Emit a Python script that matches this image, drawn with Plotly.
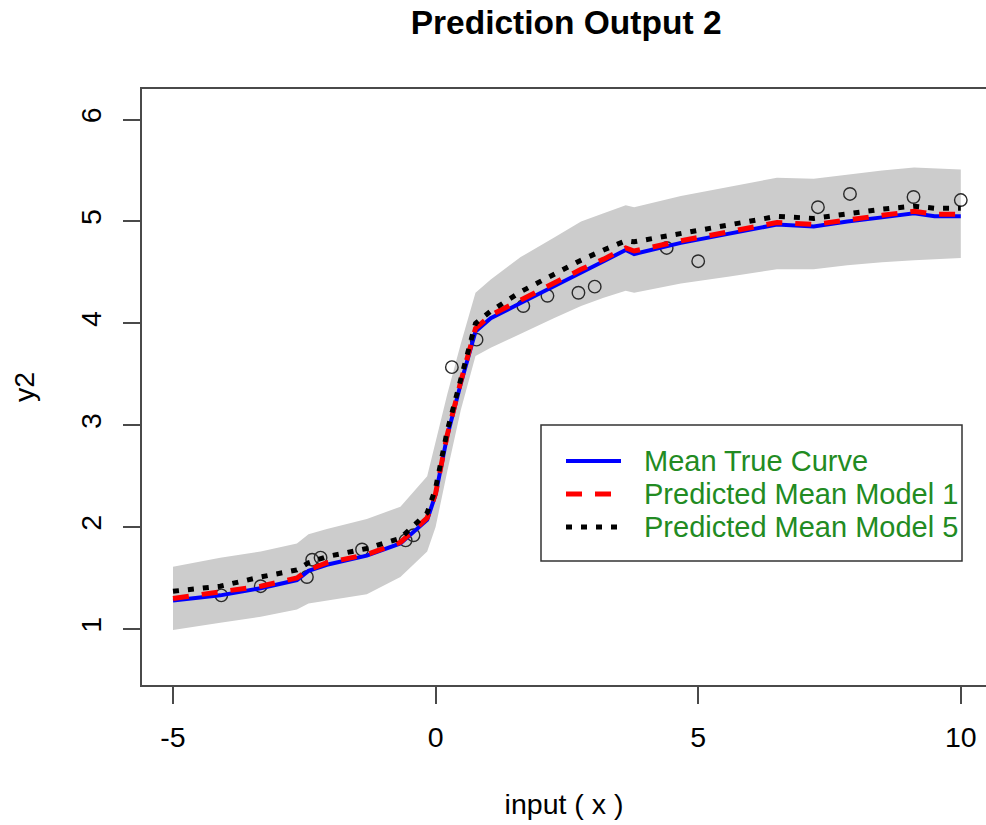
import plotly.graph_objects as go

# Input grid where the curves and the interval band are evaluated
x_grid = [-5, -4.1, -3.33, -2.64, -2.42, -2.07, -1.31, -0.67, -0.16, 0.0, 0.22, 0.48,
          0.76, 1.05, 1.62, 2.25, 2.77, 3.2, 3.62, 3.78, 4.67, 5.6, 6.5, 7.2, 7.84,
          8.5, 9.11, 9.5, 10]

# Mean true curve
y_true = [1.28, 1.33, 1.40, 1.48, 1.57, 1.63, 1.72, 1.84, 2.07, 2.32, 2.89, 3.41,
          3.92, 4.05, 4.20, 4.36, 4.50, 4.61, 4.72, 4.68, 4.79, 4.88, 4.97, 4.95, 5.00,
          5.04, 5.08, 5.05, 5.05]

# Predicted mean, model 1
y_model1 = [1.30, 1.36, 1.42, 1.50, 1.58, 1.65, 1.73, 1.85, 2.09, 2.33, 2.90, 3.43,
            3.95, 4.08, 4.23, 4.39, 4.53, 4.63, 4.74, 4.71, 4.81, 4.90, 4.99, 4.97, 5.02,
            5.06, 5.10, 5.07, 5.07]

# Predicted mean, model 5
y_model5 = [1.37, 1.42, 1.51, 1.58, 1.65, 1.71, 1.79, 1.89, 2.14, 2.38, 2.94, 3.47,
            4.00, 4.12, 4.31, 4.48, 4.62, 4.72, 4.81, 4.80, 4.88, 4.96, 5.05, 5.03, 5.08,
            5.12, 5.15, 5.13, 5.13]

# Prediction interval bounds
band_upper = [1.61, 1.70, 1.76, 1.84, 1.93, 1.98, 2.08, 2.20, 2.50, 2.85, 3.30, 3.80,
              4.30, 4.43, 4.65, 4.84, 5.00, 5.08, 5.16, 5.14, 5.25, 5.34, 5.43, 5.42, 5.46,
              5.50, 5.53, 5.52, 5.51]
band_lower = [0.99, 1.06, 1.12, 1.19, 1.25, 1.28, 1.34, 1.51, 1.76, 2.00, 2.54, 3.15,
              3.68, 3.76, 3.90, 4.05, 4.17, 4.25, 4.32, 4.30, 4.39, 4.46, 4.53, 4.53, 4.57,
              4.60, 4.62, 4.63, 4.64]

# Observed samples
obs_x = [-4.08, -3.33, -2.45, -2.35, -2.19, -1.40, -0.57, -0.42, 0.31, 0.78,
         1.67, 2.13, 2.72, 3.03, 4.40, 5.00, 7.28, 7.89, 9.10, 10.0]
obs_y = [1.33, 1.42, 1.51, 1.68, 1.70, 1.78, 1.87, 1.92, 3.57, 3.84,
         4.17, 4.27, 4.30, 4.36, 4.74, 4.61, 5.14, 5.27, 5.24, 5.21]

x_ticks = [-5, 0, 5, 10]
y_ticks = [1, 2, 3, 4, 5, 6]

# Curve series: label, values, line style
series_names = ["Mean True Curve", "Predicted Mean Model 1", "Predicted Mean Model 5"]
series_values = [y_true, y_model1, y_model5]
series_colors = ["#0000FF", "#FF0000", "#000000"]
series_widths = [4, 5, 5]
series_dashes = ["solid", "16px,13px", "6px,9px"]

FONT = "Liberation Sans"
AXIS_COLOR = "#4a4a4a"
LEGEND_TEXT = "#228B22"
BASE = 28.5

# Plot area in pixels (used to place the legend box in paper coordinates)
L, R, T, B = 142, 986, 89, 685


def px_x(p):
    return (p - L) / (R - L)


def px_y(p):
    return (B - p) / (B - T)


fig = go.Figure()

# Shaded prediction band
fig.add_trace(go.Scatter(
    x=x_grid + x_grid[::-1],
    y=band_upper + band_lower[::-1],
    fill="toself", fillcolor="rgb(204,204,204)",
    line=dict(width=0), mode="lines",
    showlegend=False, hoverinfo="skip",
))

# Observations
fig.add_trace(go.Scatter(
    x=obs_x, y=obs_y, mode="markers",
    marker=dict(symbol="circle-open", size=12.5, color="#2a2a2a", line=dict(width=1.4)),
    showlegend=False,
))

for name, vals, col, w, d in zip(series_names, series_values, series_colors,
                                 series_widths, series_dashes):
    fig.add_trace(go.Scatter(
        x=x_grid, y=vals, mode="lines", name=name,
        line=dict(color=col, width=w, dash=d), showlegend=False,
    ))

# Boxed legend in the lower right of the panel
shapes = [dict(type="rect", xref="paper", yref="paper",
               x0=px_x(541), x1=px_x(962), y0=px_y(561), y1=px_y(425),
               line=dict(color="#333333", width=1.5), fillcolor="white", layer="above")]
annotations = []
row_y = [461, 494, 527]
for ry, name, col, w, d in zip(row_y, series_names, series_colors, series_widths, series_dashes):
    shapes.append(dict(type="line", xref="paper", yref="paper",
                       x0=px_x(566), x1=px_x(621), y0=px_y(ry), y1=px_y(ry),
                       line=dict(color=col, width=w, dash=d), layer="above"))
    annotations.append(dict(text=name, xref="paper", yref="paper",
                            x=px_x(642), y=px_y(ry), xanchor="left", yanchor="middle",
                            showarrow=False,
                            font=dict(family=FONT, size=29, color=LEGEND_TEXT)))

fig.update_layout(
    width=986, height=825,
    margin=dict(l=L, r=986 - R, t=T, b=825 - B, autoexpand=False),
    paper_bgcolor="white", plot_bgcolor="white",
    font=dict(family=FONT, size=BASE, color="black"),
    showlegend=False,
    shapes=shapes,
    annotations=annotations,
    title=dict(
        text="Prediction Output 2",
        font=dict(family=FONT, size=33.5, color="black", weight="bold"),
        x=0.5025, xref="paper", xanchor="center",
        y=1 - 22 / 825, yref="container", yanchor="middle",
    ),
    xaxis=dict(
        range=[-5.59, 10.48], tickvals=x_ticks, ticktext=[str(v) for v in x_ticks],
        showgrid=False, zeroline=False,
        showline=True, mirror=True, linecolor=AXIS_COLOR, linewidth=1.5,
        ticks="outside", ticklen=17, tickwidth=1.5, tickcolor=AXIS_COLOR,
        ticklabelstandoff=9,
        tickfont=dict(family=FONT, size=BASE, color="black"),
        title=dict(text="input ( x )", font=dict(family=FONT, size=BASE, color="black"),
                   standoff=42),
        automargin=False,
    ),
    yaxis=dict(
        range=[0.45, 6.30], tickvals=y_ticks, ticktext=[str(v) for v in y_ticks],
        showgrid=False, zeroline=False,
        showline=True, mirror=False, linecolor=AXIS_COLOR, linewidth=1.5,
        ticks="outside", ticklen=17, tickwidth=1.5, tickcolor=AXIS_COLOR,
        tickangle=-90, ticklabelstandoff=11,
        tickfont=dict(family=FONT, size=BASE, color="black"),
        title=dict(text="y2", font=dict(family=FONT, size=BASE, color="black"), standoff=32),
        automargin=False,
    ),
)

fig.write_html("out.html")
